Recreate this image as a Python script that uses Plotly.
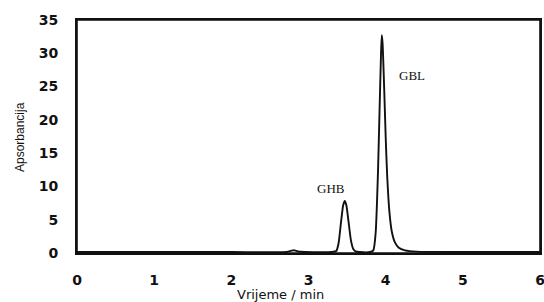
import plotly.graph_objects as go

# Chromatogram
time_min = [0.0, 1.0, 2.0, 2.72, 2.78, 2.82, 2.86, 2.95, 3.30, 3.36, 3.39, 3.42, 3.45, 3.47, 3.49,
            3.52, 3.55, 3.58, 3.61, 3.66, 3.80, 3.84, 3.87, 3.90, 3.92, 3.94, 3.95, 3.96, 3.98,
            4.00, 4.02, 4.05, 4.08, 4.12, 4.17, 4.25, 4.40, 5.0, 6.0]
absorbance = [0.15, 0.15, 0.15, 0.15, 0.35, 0.4, 0.25, 0.15, 0.15, 0.3, 1.5, 4.5, 7.2, 7.8, 7.2,
              4.6, 1.9, 0.6, 0.25, 0.15, 0.15, 0.4, 3.0, 12.0, 21.0, 30.0, 32.7, 31.5, 25.0,
              17.5, 11.5, 6.0, 3.2, 1.6, 0.8, 0.4, 0.2, 0.15, 0.15]

peak_labels = ["GHB", "GBL"]
peak_label_x = [3.29, 4.34]
peak_label_y = [9.7, 26.6]

x_ticks = [0, 1, 2, 3, 4, 5, 6]
y_ticks = [0, 5, 10, 15, 20, 25, 30, 35]

fig = go.Figure()
fig.add_trace(go.Scatter(x=time_min, y=absorbance, mode="lines",
                         line=dict(color="#111111", width=1.9, shape="spline", smoothing=0.6),
                         showlegend=False, hoverinfo="skip"))

for t, lx, ly in zip(peak_labels, peak_label_x, peak_label_y):
    fig.add_annotation(x=lx, y=ly, xref="x", yref="y", text=t, showarrow=False,
                       font=dict(family="Liberation Serif", size=13, color="#111111"),
                       xanchor="center", yanchor="middle")

tick_font = dict(family="DejaVu Sans", size=14, color="#111111", weight="bold")

fig.update_xaxes(range=[0, 6], tickvals=x_ticks, ticktext=[str(v) for v in x_ticks],
                 showgrid=False, zeroline=False, showline=True, mirror=True,
                 linecolor="#111111", linewidth=2, automargin=False,
                 ticklabeloverflow="allow",
                 ticks="outside", ticklen=13, tickcolor="rgba(0,0,0,0)",
                 tickfont=tick_font)
fig.update_yaxes(range=[0, 35], tickvals=y_ticks, ticktext=[str(v) for v in y_ticks],
                 showgrid=False, zeroline=False, showline=True, mirror=True,
                 linecolor="#111111", linewidth=2, automargin=False,
                 ticklabeloverflow="allow",
                 ticks="outside", ticklen=14, tickcolor="rgba(0,0,0,0)",
                 tickfont=tick_font)

# plot frame drawn as a layout shape as well, so that it is always present
fig.add_shape(type="rect", xref="paper", yref="paper", x0=0, x1=1, y0=0, y1=1,
              line=dict(color="#111111", width=1.6), fillcolor="rgba(0,0,0,0)", layer="above")

fig.add_annotation(text="Vrijeme / min", xref="paper", yref="paper", x=0.44, y=-0.176,
                   showarrow=False, xanchor="center", yanchor="middle",
                   font=dict(family="DejaVu Sans", size=13, color="#111111"))
fig.add_annotation(text="Apsorbancija", xref="paper", yref="paper", x=-0.123, y=0.498,
                   showarrow=False, xanchor="center", yanchor="middle", textangle=-90,
                   font=dict(family="Liberation Sans", size=12, color="#111111"))

fig.update_layout(width=544, height=302, margin=dict(l=77, r=4, t=20, b=49),
                  paper_bgcolor="white", plot_bgcolor="white")

fig.write_html("out.html", config={"displayModeBar": False},
               post_script="document.body.style.margin='0';document.body.style.overflow='hidden';")
